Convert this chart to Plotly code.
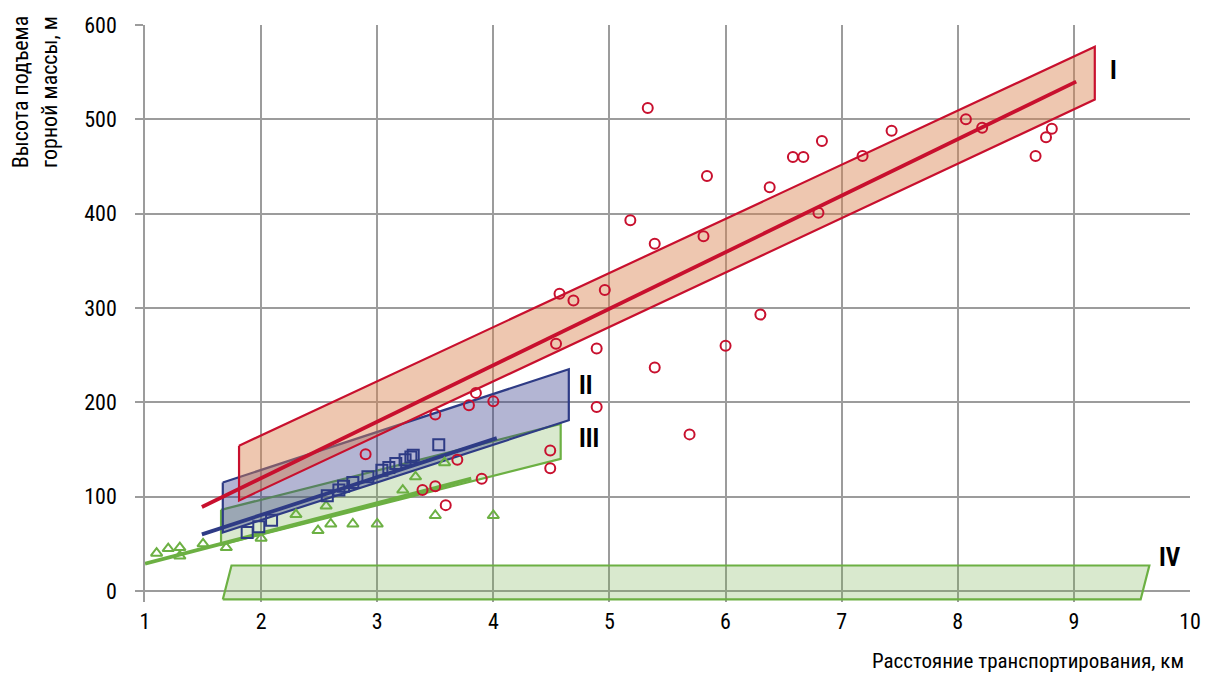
import plotly.graph_objects as go

# ---------------- data ----------------
# Series I (red circles)
red_x = [5.33, 8.07, 8.21, 7.43, 8.81, 8.76, 8.67, 6.83, 6.58, 6.67, 7.18, 5.84, 6.38,
         6.80, 5.18, 5.39, 5.81, 6.30, 4.57, 4.69, 4.96, 4.54, 4.89, 6.00, 5.39, 5.69,
         4.89, 3.85, 3.79, 4.00, 3.50, 2.90, 3.69, 4.49, 4.49, 3.90, 3.50, 3.39, 3.59]
red_y = [512, 500, 491, 488, 490, 481, 461, 477, 460, 460, 461, 440, 428,
         401, 393, 368, 376, 293, 315, 308, 319, 262, 257, 260, 237, 166,
         195, 210, 197, 201, 187, 145, 139, 149, 130, 119, 111, 107, 91]

# Series II (blue squares)
blue_x = [1.88, 1.98, 2.09, 2.57, 2.67, 2.71, 2.79, 2.92, 3.04, 3.10, 3.16, 3.24, 3.29, 3.31, 3.53]
blue_y = [62, 68, 75, 101, 107, 111, 115, 121, 128, 131, 135, 139, 142, 144, 155]

# Series III (green triangles)
green_x = [1.10, 1.20, 1.30, 1.30, 1.50, 1.70, 2.00, 2.30, 2.49, 2.60, 2.56, 2.79,
           3.00, 3.22, 3.33, 3.50, 3.58, 4.00]
green_y = [40, 45, 46, 37, 50, 46, 56, 81, 64, 71, 90, 71,
           71, 107, 121, 80, 136, 80]

# Trend lines (end points)
line_I_x = [1.49, 9.02]
line_I_y = [89, 540]
line_II_x = [1.49, 4.03]
line_II_y = [60, 162]
line_III_x = [1.00, 3.81]
line_III_y = [29, 119]

# Zones (polygon corners)
zone_I_x = [1.81, 9.18, 9.18, 1.81]
zone_I_y = [154, 577, 521, 96]
zone_II_x = [1.67, 4.65, 4.65, 1.67]
zone_II_y = [115, 235, 181, 62]
zone_III_x = [1.655, 4.58, 4.58, 1.655]
zone_III_y = [86, 177, 140, 49]
zone_IV_x = [1.67, 1.745, 9.65, 9.575]
zone_IV_y = [-9, 27, 27, -9]

zone_labels = ["I", "II", "III", "IV"]
zone_label_x = [9.34, 4.80, 4.82, 9.83]
zone_label_y = [552, 218, 162, 35]

x_ticks = [1, 2, 3, 4, 5, 6, 7, 8, 9, 10]
y_ticks = [0, 100, 200, 300, 400, 500, 600]

# ---------------- style ----------------
RED = "#c8102e"
BLUE = "#2e3b85"
GREEN = "#6cb043"
GRID = "#9c9c9c"
FONT = "Roboto Condensed, DejaVu Sans Condensed, sans-serif"

fig = go.Figure()


def zone(xs, ys, line_color, fill):
    fig.add_trace(go.Scatter(
        x=xs + [xs[0]], y=ys + [ys[0]], mode="lines", fill="toself",
        fillcolor=fill, line=dict(color=line_color, width=2.2),
        hoverinfo="skip", showlegend=False))


zone(zone_IV_x, zone_IV_y, GREEN, "rgba(120,175,80,0.28)")
zone(zone_III_x, zone_III_y, GREEN, "rgba(120,175,80,0.28)")
zone(zone_II_x, zone_II_y, BLUE, "rgba(55,60,140,0.38)")
zone(zone_I_x, zone_I_y, RED, "rgba(218,130,80,0.45)")

for lx, ly, c in [(line_III_x, line_III_y, GREEN), (line_II_x, line_II_y, BLUE),
                  (line_I_x, line_I_y, RED)]:
    fig.add_trace(go.Scatter(x=lx, y=ly, mode="lines", line=dict(color=c, width=3.8),
                             hoverinfo="skip", showlegend=False))

fig.add_trace(go.Scatter(x=green_x, y=green_y, mode="markers",
                         marker=dict(symbol="triangle-up-open", size=10,
                                     color=GREEN, line=dict(width=2, color=GREEN)),
                         showlegend=False))
fig.add_trace(go.Scatter(x=blue_x, y=blue_y, mode="markers",
                         marker=dict(symbol="square-open", size=11,
                                     color=BLUE, line=dict(width=2, color=BLUE)),
                         showlegend=False))
fig.add_trace(go.Scatter(x=red_x, y=red_y, mode="markers",
                         marker=dict(symbol="circle-open", size=10,
                                     color=RED, line=dict(width=2, color=RED)),
                         showlegend=False))

annotations = []
for t, x, y in zip(zone_labels, zone_label_x, zone_label_y):
    annotations.append(dict(x=x, y=y, xref="x", yref="y", text="<b>%s</b>" % t,
                            showarrow=False, font=dict(family=FONT, size=25, color="black")))

annotations.append(dict(x=0.845, y=-0.103, xref="paper", yref="paper", xanchor="center",
                        yanchor="middle", showarrow=False,
                        text="Расстояние транспортирования, км",
                        font=dict(family=FONT, size=21, color="black")))
annotations.append(dict(x=-0.105, y=0.884, xref="paper", yref="paper", xanchor="center",
                        yanchor="middle", showarrow=False, textangle=-90,
                        text="Высота подъема<br>горной массы, м",
                        font=dict(family=FONT, size=22, color="black")))

fig.update_layout(
    width=1206, height=674,
    margin=dict(l=145, r=16, t=25, b=72),
    paper_bgcolor="white", plot_bgcolor="white",
    font=dict(family=FONT, size=22, color="black"),
    annotations=annotations,
    xaxis=dict(range=[1, 10], tickvals=x_ticks, showgrid=True, gridcolor=GRID,
               gridwidth=1.5, zeroline=False, showline=False, ticks="", automargin=False,
               ticklabelstandoff=4, tickfont=dict(family=FONT, size=22)),
    yaxis=dict(range=[-11.7, 600], tickvals=y_ticks, showgrid=True, gridcolor=GRID,
               gridwidth=1.5, zeroline=True, zerolinecolor=GRID, zerolinewidth=1.5,
               showline=True, linecolor=GRID, linewidth=1.5, automargin=False,
               ticks="outside", ticklen=8, tickcolor=GRID, tickwidth=1.5,
               ticklabelstandoff=14, tickfont=dict(family=FONT, size=22)),
)

fig.write_html("out.html")
